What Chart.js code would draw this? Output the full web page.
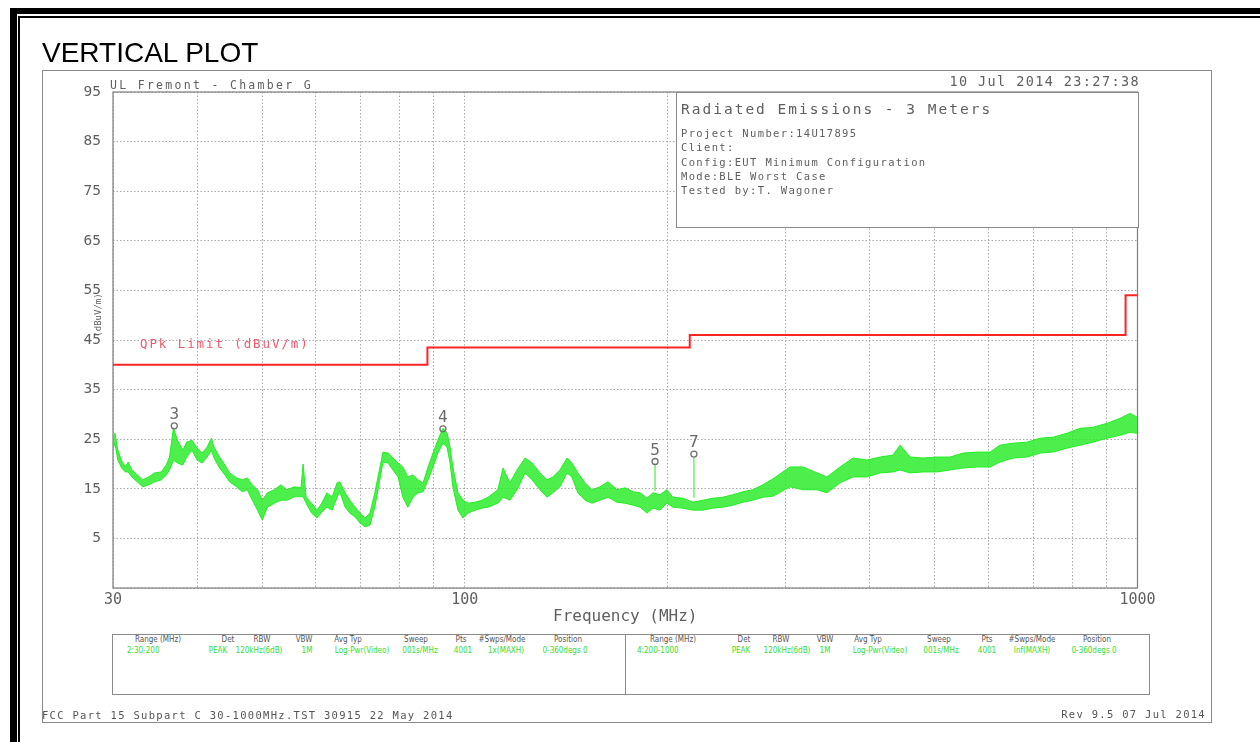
<!DOCTYPE html>
<html>
<head>
<meta charset="utf-8">
<title>Vertical plot</title>
<script src="https://cdn.jsdelivr.net/npm/chart.js@4.4.0/dist/chart.umd.min.js"></script>
<style>
  html, body { margin: 0; padding: 0; background: #fff; }
  #page { position: relative; width: 1260px; height: 742px; overflow: hidden; }
  #chart { position: absolute; left: 0; top: 0; z-index: 1; }
  .bar { position: absolute; background: #000; }
  .box { position: absolute; box-sizing: border-box; border: 1px solid #8a8a8a; background: #fff; z-index: 2; }
  .txt { position: absolute; white-space: nowrap; z-index: 3; line-height: 1; }
  .pl { font-family: 'DejaVu Sans Mono', monospace; color: #5f5f5f; }
  .ul { font-size: 11.5px; letter-spacing: 2.3px; }
  .date { font-size: 13.5px; letter-spacing: 1.4px; }
  .inf1 { font-size: 14.5px; letter-spacing: 2px; }
  .inf { font-size: 10.5px; letter-spacing: 1.35px; }
  .foot { font-size: 10.5px; letter-spacing: 1.3px; color: #555; }
  .qpk { font-size: 12.5px; letter-spacing: 1.9px; color: #ef5a6c; }
  .ylab { font-size: 9px; letter-spacing: 0; }
  .th { font-family: 'Liberation Sans Narrow', 'DejaVu Sans Condensed', sans-serif; font-size: 8px; color: #555; }
  .td { font-family: 'Liberation Sans Narrow', 'DejaVu Sans Condensed', sans-serif; font-size: 8px; color: #33dd33; }
  .head { font-family: 'Liberation Sans', Arial, sans-serif; font-size: 28px; color: #000; }
</style>
</head>
<body>
<div id="page">
  <div class="bar" style="left:10px;top:8px;width:7px;height:734px"></div>
  <div class="bar" style="left:18px;top:16px;width:2px;height:726px"></div>
  <div class="bar" style="left:10px;top:8px;width:1250px;height:6px"></div>
  <div class="bar" style="left:18px;top:16px;width:1242px;height:2px"></div>
  <div class="box" style="left:42px;top:70px;width:1170px;height:653px;z-index:0"></div>
  <canvas id="chart" width="1260" height="742"></canvas>
  <div class="box" style="left:676px;top:92px;width:463px;height:136px"></div>
  <div class="box" style="left:112px;top:634px;width:514px;height:61px"></div>
  <div class="box" style="left:625px;top:634px;width:525px;height:61px"></div>
</div>

<script>
// ---- trace (MHz, upper / lower edge of the peak trace, dBuV/m)
const traceFreq = [
  30.0, 30.2, 30.5, 30.9, 31.3, 31.6, 32.0, 32.6, 33.2, 33.9, 34.6, 35.4, 36.0, 36.4, 36.9,
  37.4, 38.1, 38.6, 39.3, 40.0, 40.7, 41.4, 42.0, 42.4, 43.2, 44.0, 44.7, 45.8, 46.7, 47.5,
  48.3, 49.2, 50.0, 50.9, 52.1, 53.3, 54.4, 55.8, 57.1, 57.5, 58.1, 59.2, 60.3, 61.3, 62.4,
  63.5, 64.6, 65.2, 66.4, 67.5, 68.7, 69.9, 71.1, 72.3, 73.5, 74.3, 75.6, 76.9, 78.2, 79.6,
  80.9, 82.3, 83.8, 85.2, 86.7, 88.2, 89.7, 91.2, 92.8, 94.1, 95.1, 96.0, 97.7, 99.4, 101.1,
  103.6, 106.1, 108.3, 112.0, 114.0, 116.7, 119.6, 122.9, 125.9, 129.4, 132.5, 135.2, 138.5, 141.9, 144.3,
  147.3, 150.9, 154.6, 158.8, 163.3, 168.4, 173.1, 177.9, 182.2, 186.6, 190.4, 195.0, 199.7, 203.9, 211.0,
  218.3, 225.9, 233.8, 241.9, 250.4, 259.1, 268.1, 277.4, 287.1, 304.4, 318.3, 333.9, 345.5, 361.3, 377.8,
  396.3, 414.3, 433.1, 443.7, 459.2, 480.1, 503.6, 526.6, 550.5, 577.5, 603.7, 624.8, 653.2, 685.2, 716.3,
  749.0, 785.7, 821.5, 858.8, 901.0, 942.0, 974.9, 1000
];
const traceHigh = [
  25.5, 26.2, 22.8, 20.6, 19.4, 20.4, 18.8, 17.8, 16.8, 17.4, 18.2, 18.4, 19.8, 21.4, 27.3,
  24.8, 22.8, 24.4, 24.8, 23.2, 22.2, 23.4, 25.2, 23.4, 21.4, 19.8, 18.2, 17.2, 16.8, 17.2,
  15.8, 14.8, 12.7, 14.2, 14.8, 15.8, 14.8, 15.4, 15.2, 20.0, 13.3, 12.1, 10.7, 12.1, 14.2,
  13.3, 16.2, 16.4, 14.2, 12.7, 11.3, 10.1, 9.1, 10.1, 14.2, 17.4, 22.4, 22.2, 21.2, 20.2,
  19.4, 17.4, 17.8, 16.8, 16.2, 19.4, 22.2, 24.8, 27.2, 26.3, 23.4, 19.4, 14.2, 12.7, 12.1,
  12.3, 12.7, 13.3, 14.8, 19.2, 16.2, 18.8, 21.2, 20.2, 18.2, 16.8, 17.4, 18.8, 21.2, 20.2,
  18.2, 16.2, 14.8, 15.4, 16.4, 14.8, 15.2, 14.4, 14.2, 13.1, 14.2, 13.8, 14.8, 13.3, 13.1,
  12.3, 12.7, 13.1, 13.3, 13.8, 14.4, 14.8, 15.8, 17.0, 19.4, 19.4, 18.2, 17.4, 19.4, 21.2,
  20.8, 21.4, 21.8, 23.8, 21.4, 21.2, 21.4, 21.4, 22.2, 22.4, 22.4, 23.8, 24.2, 24.4, 25.2,
  25.4, 26.2, 27.2, 27.4, 28.2, 29.2, 30.2, 29.4
];
const traceLow = [
  23.0, 24.2, 20.8, 19.2, 18.4, 18.4, 17.4, 16.4, 15.4, 15.8, 16.4, 16.8, 17.8, 18.8, 20.8,
  20.2, 19.8, 21.4, 22.8, 20.8, 20.2, 21.4, 22.8, 21.2, 19.2, 17.8, 16.4, 15.4, 14.4, 14.8,
  12.8, 10.7, 8.7, 11.3, 12.1, 12.7, 12.7, 13.4, 13.4, 13.4, 12.1, 10.1, 9.1, 10.3, 11.3,
  10.7, 13.3, 14.4, 11.3, 10.1, 9.3, 8.1, 7.3, 7.7, 11.3, 14.8, 20.4, 20.2, 18.8, 17.4,
  13.3, 11.3, 13.3, 14.2, 14.4, 16.8, 19.4, 22.2, 24.2, 23.4, 20.2, 15.4, 10.7, 9.1, 10.1,
  10.7, 11.1, 11.3, 12.1, 13.3, 12.7, 14.8, 18.2, 16.8, 14.8, 13.3, 14.2, 15.4, 18.2, 17.4,
  14.2, 12.7, 12.1, 12.7, 13.3, 12.3, 12.1, 11.7, 11.3, 10.1, 11.1, 10.7, 12.1, 11.3, 11.1,
  10.7, 10.7, 11.1, 11.3, 11.7, 12.3, 12.7, 13.3, 13.5, 15.4, 14.8, 14.8, 14.2, 16.2, 17.4,
  17.4, 18.2, 18.4, 18.8, 18.2, 18.4, 18.4, 18.8, 19.2, 19.4, 19.4, 20.4, 21.2, 21.4, 22.2,
  22.4, 23.2, 23.8, 24.4, 25.2, 25.8, 26.4, 26.2
];

// ---- QPk limit steps (MHz, dBuV/m)
const limitFreq  = [30, 88, 216, 960, 1000];
const limitLevel = [40, 43.5, 46, 54, 54];

// ---- markers
const markerNum   = ['3', '4', '5', '7'];
const markerFreq  = [37.0, 92.8, 191.8, 219.1];
const markerLevel = [27.7, 27.1, 20.5, 22.0];
const markerFloor = [27.7, 27.1, 14.6, 13.2];

// ---- axes
const xGridMHz  = [30, 40, 50, 60, 70, 80, 90, 100, 200, 300, 400, 500, 600, 700, 800, 900, 1000];
const xLabelMHz = [30, 100, 1000];
const yTicks    = [-5, 5, 15, 25, 35, 45, 55, 65, 75, 85, 95];

// ---- texts
const plotTitle  = 'VERTICAL PLOT';
const siteText   = 'UL Fremont - Chamber G';
const dateText   = '10 Jul 2014  23:27:38';
const infoTitle  = 'Radiated Emissions - 3 Meters';
const infoLines  = ['Project Number:14U17895', 'Client:', 'Config:EUT Minimum Configuration',
                    'Mode:BLE Worst Case', 'Tested by:T. Wagoner'];
const limitText  = 'QPk Limit (dBuV/m)';
const yTitle     = '(dBuV/m)';
const xTitle     = 'Frequency (MHz)';
const footLeft   = 'FCC Part 15 Subpart C 30-1000MHz.TST 30915 22 May 2014';
const footRight  = 'Rev 9.5 07 Jul 2014';
const tableHeaders = ['Range (MHz)', 'Det', 'RBW', 'VBW', 'Avg Typ', 'Sweep', 'Pts', '#Swps/Mode', 'Position'];
const tableRowA  = ['2:30-200', 'PEAK', '120kHz(6dB)', '1M', 'Log-Pwr(Video)', '001s/MHz', '4001', '1x(MAXH)', '0-360degs 0'];
const tableRowB  = ['4:200-1000', 'PEAK', '120kHz(6dB)', '1M', 'Log-Pwr(Video)', '001s/MHz', '4001', 'Inf(MAXH)', '0-360degs 0'];

// =============================================
//  texto em HTML
// =============================================
const page = document.getElementById('page');

function putText(txt, x, yc, cls, align) {
  const d = document.createElement('div');
  d.className = 'txt ' + cls;
  d.textContent = txt;
  d.style.left = x + 'px';
  d.style.top = yc + 'px';
  if (align === 'center') d.style.transform = 'translate(-50%,-50%)';
  else if (align === 'right') d.style.transform = 'translate(-100%,-50%)';
  else d.style.transform = 'translateY(-50%)';
  page.appendChild(d);
  return d;
}

putText(plotTitle, 42, 53, 'head', 'left');
putText(siteText, 110, 86, 'pl ul', 'left');
putText(dateText, 1140, 82, 'pl date', 'right');
putText(infoTitle, 681, 109, 'pl inf1', 'left');
infoLines.forEach((t, i) => putText(t, 681, 132.7 + i * 14.4, 'pl inf', 'left'));
putText(limitText, 140, 344, 'pl qpk', 'left');
const yt = putText(yTitle, 98, 315, 'pl ylab', 'center');
yt.style.transform = 'translate(-50%,-50%) rotate(-90deg)';
putText(footLeft, 42, 715, 'pl foot', 'left');
putText(footRight, 1206, 714, 'pl foot', 'right');

// colunas das duas tabelas (centro em px)
const headPosA = [158, 228, 262, 304, 348, 416, 461, 502, 568];
const valPosA  = [127, 218, 259, 307, 362, 420, 463, 506, 565];
const headPosB = [673, 744, 781, 825, 868, 939, 987, 1032, 1097];
const valPosB  = [637, 741, 787, 825, 880, 941, 987, 1032, 1094];

tableHeaders.forEach((h, i) => {
  putText(h, headPosA[i], 640, 'th', 'center');
  putText(h, headPosB[i], 640, 'th', 'center');
  putText(tableRowA[i], valPosA[i], 651, 'td', i === 0 ? 'left' : 'center');
  putText(tableRowB[i], valPosB[i], 651, 'td', i === 0 ? 'left' : 'center');
});

// =============================================
//  GRÁFICO
// =============================================
const plotFont = 'DejaVu Sans Mono';
const gray = '#5f5f5f';
const green = '#22ee22';

// moldura cheia em volta da área do gráfico
const framePlugin = {
  id: 'frame',
  beforeDatasetsDraw(chart) {
    const { ctx, chartArea: a } = chart;
    ctx.save();
    ctx.strokeStyle = '#7d7d7d';
    ctx.lineWidth = 1.2;
    ctx.strokeRect(a.left, a.top, a.right - a.left, a.bottom - a.top);
    ctx.restore();
  }
};

// números e hastes dos marcadores
const markerPlugin = {
  id: 'markerLabels',
  afterDatasetsDraw(chart) {
    const { ctx, scales: { x, y } } = chart;
    ctx.save();
    markerNum.forEach((n, i) => {
      const px = x.getPixelForValue(markerFreq[i]);
      const py = y.getPixelForValue(markerLevel[i]);
      const pf = y.getPixelForValue(markerFloor[i]);
      if (pf > py + 4) {
        ctx.strokeStyle = green;
        ctx.lineWidth = 1;
        ctx.beginPath();
        ctx.moveTo(px, py + 3.5);
        ctx.lineTo(px, pf);
        ctx.stroke();
      }
      ctx.fillStyle = '#6a6a6a';
      ctx.font = '16px ' + plotFont;
      ctx.textAlign = 'center';
      ctx.textBaseline = 'middle';
      ctx.fillText(n, px, py - 11);
    });
    ctx.restore();
  }
};

const chartTop = 92, chartBottom = 588, chartLeft = 113, chartRight = 1137.5;
const xAxisHeight = 38.6;

const gridStyle = { color: '#ababab', lineWidth: 1, drawTicks: false };
const gridBorder = { display: false, dash: [1.5, 2] };

new Chart(document.getElementById('chart'), {
  type: 'line',
  data: {
    datasets: [
      {
        label: limitText,
        data: limitFreq.map((f, i) => ({ x: f, y: limitLevel[i] })),
        stepped: true,
        borderColor: '#ff2424',
        borderWidth: 2,
        pointRadius: 0,
        fill: false,
        order: 0
      },
      {
        label: 'Peak max',
        data: traceFreq.map((f, i) => ({ x: f, y: traceHigh[i] })),
        borderColor: green,
        borderWidth: 1,
        pointRadius: 0,
        fill: false,
        order: 2
      },
      {
        label: 'Peak min',
        data: traceFreq.map((f, i) => ({ x: f, y: traceLow[i] })),
        borderColor: green,
        borderWidth: 1,
        pointRadius: 0,
        fill: '-1',
        backgroundColor: 'rgba(38, 236, 38, 0.82)',
        order: 2
      },
      {
        type: 'scatter',
        label: 'Markers',
        data: markerFreq.map((f, i) => ({ x: f, y: markerLevel[i] })),
        pointRadius: 3,
        pointBorderColor: '#707070',
        pointBackgroundColor: 'rgba(255,255,255,0)',
        pointBorderWidth: 1.3,
        order: -1
      }
    ]
  },
  options: {
    responsive: false,
    animation: false,
    layout: {
      padding: {
        top: chartTop,
        left: 0,
        right: 1260 - chartRight,
        bottom: 742 - chartBottom - xAxisHeight
      }
    },
    plugins: {
      legend: { display: false },
      tooltip: { enabled: false }
    },
    scales: {
      x: {
        type: 'logarithmic',
        min: 30,
        max: 1000,
        afterBuildTicks: s => { s.ticks = xGridMHz.map(v => ({ value: v })); },
        afterFit: s => { s.height = xAxisHeight; },
        ticks: {
          autoSkip: false,
          maxRotation: 0,
          padding: 3,
          color: gray,
          font: { family: plotFont, size: 15 },
          callback: v => xLabelMHz.includes(v) ? String(v) : ''
        },
        grid: gridStyle,
        border: gridBorder,
        title: {
          display: true,
          text: xTitle,
          color: gray,
          font: { family: plotFont, size: 16 },
          padding: 0
        }
      },
      y: {
        min: -5,
        max: 95,
        afterBuildTicks: s => { s.ticks = yTicks.map(v => ({ value: v })); },
        afterFit: s => { s.width = chartLeft; },
        ticks: {
          padding: 12,
          color: gray,
          font: { family: plotFont, size: 14.5 },
          callback: v => v === yTicks[0] ? '' : String(v)
        },
        grid: gridStyle,
        border: gridBorder
      }
    }
  },
  plugins: [framePlugin, markerPlugin]
});
</script>
</body>
</html>
